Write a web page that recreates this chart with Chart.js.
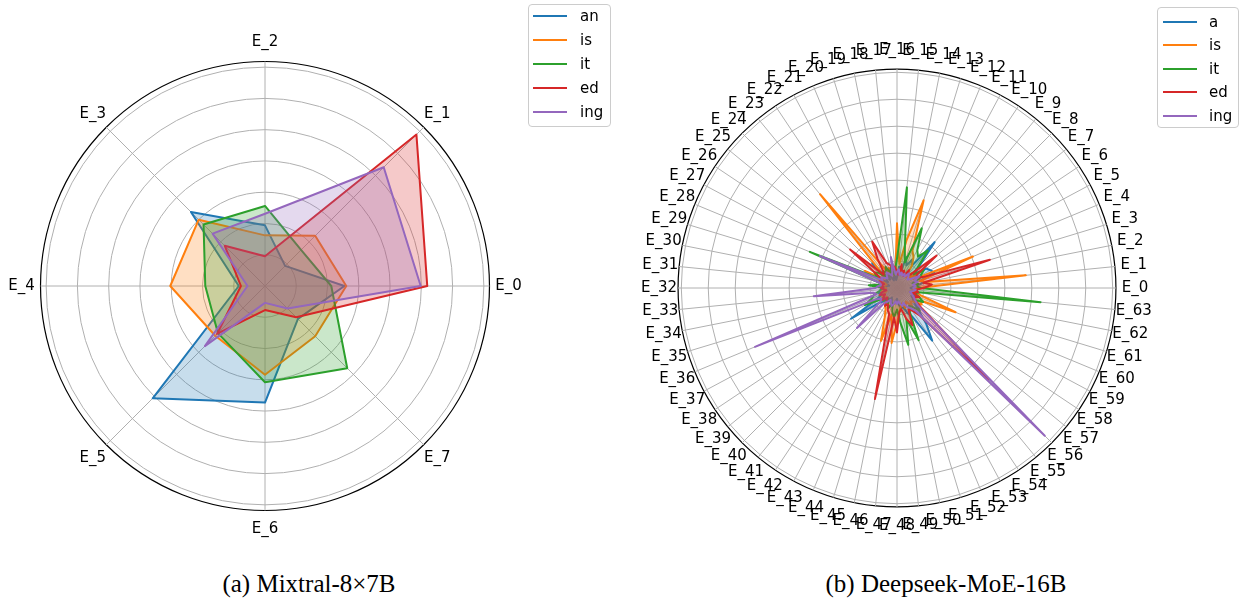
<!DOCTYPE html>
<html>
<head>
<meta charset="utf-8">
<title>Expert routing radar charts</title>
<script src="https://cdn.jsdelivr.net/npm/chart.js@4.4.1/dist/chart.umd.min.js"></script>
<style>
  html, body { margin: 0; padding: 0; background: #ffffff; }
  #page { position: relative; width: 1241px; height: 600px; overflow: hidden; background: #ffffff;
          font-family: "DejaVu Sans", sans-serif; }
  canvas { position: absolute; top: 0; }
  #radarA { left: 0; }
  #radarB { left: 620px; }
  .legend { position: absolute; box-sizing: border-box; border: 1px solid #cccccc; border-radius: 4px;
            background: rgba(255,255,255,0.8); }
  .lg-row { position: absolute; left: 0; height: 24px; display: flex; align-items: center; white-space: nowrap; }
  .lg-line { display: inline-block; width: 34px; height: 2px; }
  .lg-text { font-family: "DejaVu Sans", sans-serif; font-size: 15px; color: #000; line-height: 24px; }
  .caption { position: absolute; top: 570px; height: 28px; line-height: 28px; transform: translateX(-50%);
             font-family: "Liberation Serif", "Times New Roman", serif; font-size: 25px; color: #000; white-space: nowrap; }
</style>
</head>
<body>
<div id="page">
  <canvas id="radarA" width="620" height="560"></canvas>
  <canvas id="radarB" width="621" height="560"></canvas>
  <div id="legendA" class="legend" style="left:528px; top:4px; width:83px; height:123px;"></div>
  <div id="legendB" class="legend" style="left:1157px; top:7px; width:82px; height:121px;"></div>
  <div class="caption" style="left:309px;">(a) Mixtral-8×7B</div>
  <div class="caption" style="left:946px;">(b) Deepseek-MoE-16B</div>
</div>
<script>
// ---- Mixtral-8x7B: share of suffix tokens routed to each expert ----
const EXPERTS_A = ['E_0', 'E_1', 'E_2', 'E_3', 'E_4', 'E_5', 'E_6', 'E_7'];
const SERIES_A = ['an', 'is', 'it', 'ed', 'ing'];
const A_AN  = [2.54, 0.91, 1.94, 3.35, 0.84, 5.08, 3.73, 1.49];
const A_IS  = [2.60, 2.27, 1.62, 3.00, 3.03, 2.25, 2.84, 2.27];
const A_IT  = [2.12, 1.63, 2.56, 2.78, 1.91, 2.13, 3.08, 3.72];
const A_ED  = [5.19, 6.85, 0.95, 1.82, 0.77, 2.17, 0.77, 1.41];
const A_ING = [4.98, 5.37, 2.31, 2.37, 0.56, 2.72, 0.54, 1.02];
const RINGS_A = [0, 1, 2, 3, 4, 5, 6, 7, 7.18];

// ---- Deepseek-MoE-16B: 64 routed experts ----
const EXPERTS_B = [
  'E_0', 'E_1', 'E_2', 'E_3', 'E_4', 'E_5', 'E_6', 'E_7',
  'E_8', 'E_9', 'E_10', 'E_11', 'E_12', 'E_13', 'E_14', 'E_15',
  'E_16', 'E_17', 'E_18', 'E_19', 'E_20', 'E_21', 'E_22', 'E_23',
  'E_24', 'E_25', 'E_26', 'E_27', 'E_28', 'E_29', 'E_30', 'E_31',
  'E_32', 'E_33', 'E_34', 'E_35', 'E_36', 'E_37', 'E_38', 'E_39',
  'E_40', 'E_41', 'E_42', 'E_43', 'E_44', 'E_45', 'E_46', 'E_47',
  'E_48', 'E_49', 'E_50', 'E_51', 'E_52', 'E_53', 'E_54', 'E_55',
  'E_56', 'E_57', 'E_58', 'E_59', 'E_60', 'E_61', 'E_62', 'E_63'
];
const SERIES_B = ['a', 'is', 'it', 'ed', 'ing'];
const B_A = [
  0.5, 0.7, 1.0, 0.9, 1.5, 1.4, 1.3, 0.8,
  1.2, 2.2, 1.0, 1.2, 0.9, 1.2, 0.5, 0.8,
  0.4, 0.3, 0.5, 0.4, 0.3, 0.5, 0.6, 0.4,
  1.3, 0.5, 0.4, 0.6, 0.5, 0.3, 0.4, 0.5,
  0.4, 0.6, 0.5, 0.7, 0.6, 0.8, 2.05, 0.9,
  0.7, 0.5, 0.6, 0.4, 0.5, 0.7, 0.6, 0.5,
  0.4, 0.6, 0.8, 0.7, 1.0, 1.2, 2.35, 1.7,
  1.1, 0.8, 0.7, 0.6, 0.9, 0.5, 0.6, 0.7
];
const B_IS = [
  0.8, 4.8, 1.2, 0.9, 3.05, 0.7, 0.9, 0.6,
  0.8, 0.5, 1.0, 1.3, 1.5, 3.4, 1.8, 0.9,
  2.4, 0.6, 0.5, 0.7, 0.8, 0.6, 1.0, 4.5,
  0.9, 0.7, 0.6, 1.35, 0.5, 0.4, 0.6, 0.5,
  0.4, 0.5, 0.6, 0.4, 0.5, 0.6, 0.7, 0.5,
  0.6, 0.7, 0.8, 0.9, 1.2, 2.05, 1.0, 2.05,
  1.3, 0.9, 0.7, 0.6, 0.8, 0.7, 0.6, 0.9,
  0.7, 0.8, 1.1, 1.0, 2.35, 0.9, 0.7, 0.6
];
const B_IT = [
  0.9, 0.7, 0.8, 0.6, 0.9, 1.0, 1.2, 0.8,
  1.1, 1.8, 1.4, 1.6, 2.4, 1.0, 1.5, 3.75,
  1.1, 0.7, 0.5, 0.8, 0.6, 0.9, 0.7, 0.8,
  0.6, 0.9, 1.0, 0.8, 3.5, 0.7, 0.6, 1.05,
  0.5, 0.6, 0.7, 0.9, 1.0, 1.35, 0.8, 0.6,
  0.7, 0.5, 0.6, 0.7, 0.8, 0.6, 0.9, 1.1,
  0.8, 1.3, 2.15, 1.2, 2.1, 1.0, 0.8, 0.9,
  1.2, 1.0, 0.8, 1.1, 0.9, 0.7, 0.8, 5.35
];
const B_ED = [
  1.0, 1.3, 1.0, 3.6, 1.1, 0.8, 0.9, 1.9,
  0.7, 0.6, 0.8, 0.5, 0.7, 0.6, 0.9, 0.5,
  0.6, 0.8, 0.7, 0.9, 1.0, 1.95, 1.3, 0.8,
  0.7, 2.25, 0.9, 0.6, 0.7, 0.5, 0.6, 0.5,
  0.6, 0.5, 0.4, 0.6, 0.7, 0.5, 0.6, 0.7,
  0.5, 0.6, 0.8, 0.7, 0.9, 1.0, 4.2, 1.1,
  1.65, 0.9, 0.8, 1.2, 1.5, 0.9, 1.0, 1.3,
  4.8, 1.2, 0.8, 0.7, 0.9, 0.6, 0.8, 0.7
];
const B_ING = [
  0.6, 0.7, 0.6, 0.8, 0.7, 0.95, 0.6, 0.5,
  0.6, 0.7, 0.5, 0.6, 0.5, 0.6, 0.5, 0.7,
  0.6, 0.5, 1.17, 0.6, 0.5, 0.6, 0.7, 0.6,
  0.5, 0.6, 0.7, 0.6, 3.1, 0.7, 0.6, 0.7,
  0.8, 3.1, 0.9, 0.8, 5.7, 0.9, 0.7, 0.8,
  2.1, 0.7, 0.6, 0.5, 0.6, 0.7, 0.6, 0.5,
  0.6, 0.5, 0.6, 0.7, 0.6, 0.8, 0.9, 1.1,
  7.75, 1.0, 0.8, 0.7, 0.6, 0.5, 0.6, 0.7
];
const RINGS_B = [0, 1, 2, 3, 4, 5, 6, 7, 8, 8.12];

const COLORS = ['#1f77b4', '#ff7f0e', '#2ca02c', '#d62728', '#9467bd'];
const GRID_GREY = '#b0b0b0';
const LABEL_FONT = { family: 'DejaVu Sans', size: 15 };
const LABEL_GAP = 19;   // distance from the outer ring to the centre of each axis label

function fade(hex, a) {
  const n = parseInt(hex.slice(1), 16);
  return 'rgba(' + (n >> 16) + ',' + ((n >> 8) & 255) + ',' + (n & 255) + ',' + a + ')';
}

// Put every axis label's centre on a ring just outside the plot, instead of
// aligning its nearest edge to the axis end.
function centreAxisLabels(scale) {
  const items = scale._pointLabelItems;
  if (!items) return;
  const lh = LABEL_FONT.size * 1.2;
  items.forEach((item, i) => {
    const p = scale.getPointPosition(i, scale.drawingArea + LABEL_GAP);
    const w = item.right - item.left;
    item.textAlign = 'center';
    item.x = p.x;
    item.y = p.y - lh / 2;
    item.left = p.x - w / 2;
    item.right = p.x + w / 2;
    item.top = item.y;
    item.bottom = item.y + lh;
  });
}

// Chart.js walks the axes clockwise from its start angle; E_0 sits on the east
// side and the experts run counter-clockwise, so index i shows expert (n - i) % n.
function makeRadar(canvasId, labels, names, seriesList, rings, pad) {
  const n = labels.length;
  const order = labels.map((_, i) => (n - i) % n);
  const outer = rings[rings.length - 1];
  return new Chart(document.getElementById(canvasId), {
    type: 'radar',
    data: {
      labels: order.map(k => labels[k]),
      datasets: seriesList.map((vals, j) => ({
        label: names[j],
        data: order.map(k => vals[k]),
        borderColor: COLORS[j],
        backgroundColor: fade(COLORS[j], 0.25),
        fill: true,
        order: names.length - j   // later series drawn on top
      }))
    },
    options: {
      responsive: false,
      animation: false,
      events: [],
      layout: { padding: pad },
      elements: {
        line: { borderWidth: 2, borderJoinStyle: 'round', tension: 0 },
        point: { radius: 0, hoverRadius: 0, hitRadius: 0 }
      },
      plugins: { legend: { display: false }, tooltip: { enabled: false } },
      scales: {
        r: {
          min: 0,
          max: outer,
          startAngle: 90,
          afterBuildTicks: scale => { scale.ticks = rings.map(v => ({ value: v })); },
          afterFit: centreAxisLabels,
          ticks: { display: false },
          grid: {
            circular: true,
            color: c => (c.tick && c.tick.value === outer) ? '#000000' : GRID_GREY,
            lineWidth: c => (c.tick && c.tick.value === outer) ? 1.2 : 1
          },
          angleLines: { color: GRID_GREY, lineWidth: 1 },
          pointLabels: { padding: 5, color: '#000000', font: LABEL_FONT }
        }
      }
    }
  });
}

// Legend box listing each dataset's line colour and name
function buildLegend(chart, el, cfg) {
  el.innerHTML = '';
  chart.data.datasets.forEach((ds, i) => {
    const row = document.createElement('div');
    row.className = 'lg-row';
    row.style.top = (cfg.firstCenter - 12 + i * cfg.step) + 'px';
    row.style.left = cfg.lineLeft + 'px';
    const line = document.createElement('span');
    line.className = 'lg-line';
    line.style.background = ds.borderColor;
    const txt = document.createElement('span');
    txt.className = 'lg-text';
    txt.style.marginLeft = cfg.gap + 'px';
    txt.textContent = ds.label;
    row.appendChild(line);
    row.appendChild(txt);
    el.appendChild(row);
  });
}

Chart.defaults.font.family = 'DejaVu Sans';

const chartA = makeRadar('radarA', EXPERTS_A, SERIES_A,
  [A_AN, A_IS, A_IT, A_ED, A_ING], RINGS_A,
  { left: 9, top: 30, right: 99, bottom: 18 });

const chartB = makeRadar('radarB', EXPERTS_B, SERIES_B,
  [B_A, B_IS, B_IT, B_ED, B_ING], RINGS_B,
  { left: 17, top: 28, right: 84, bottom: 12 });

buildLegend(chartA, document.getElementById('legendA'), { firstCenter: 11, step: 24, lineLeft: 4, gap: 13 });
buildLegend(chartB, document.getElementById('legendB'), { firstCenter: 14, step: 23.4, lineLeft: 5, gap: 12 });
</script>
</body>
</html>
